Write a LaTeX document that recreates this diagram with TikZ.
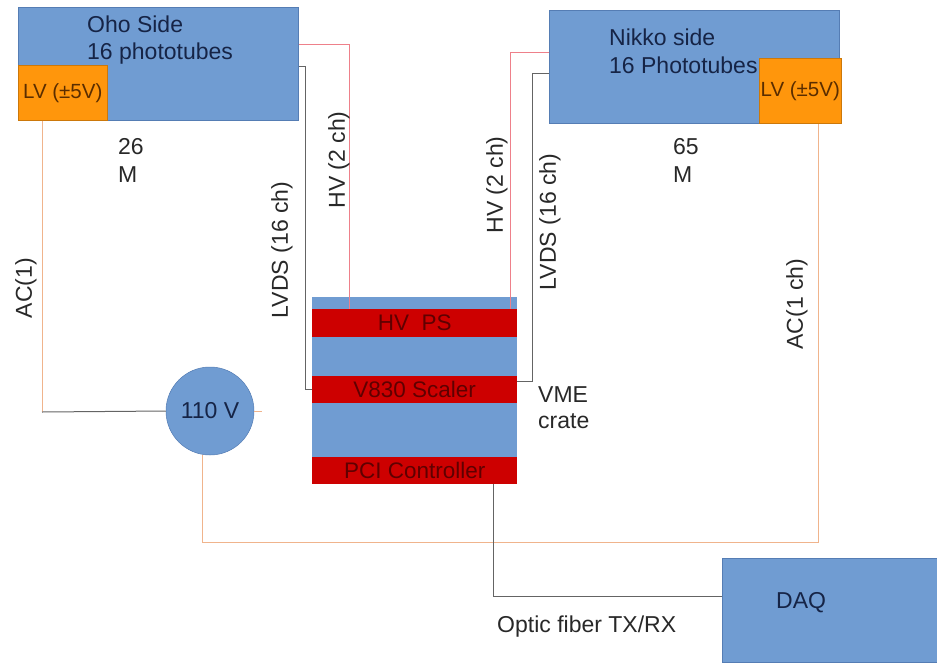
\documentclass[tikz,border=0pt]{standalone}
\usepackage{fontspec}
\setmainfont{Liberation Sans}
\definecolor{boxblue}{RGB}{112,156,210}
\definecolor{boxedge}{RGB}{85,125,180}
\definecolor{lvorange}{RGB}{255,150,12}
\definecolor{bandred}{RGB}{205,0,0}
\definecolor{bandtext}{RGB}{95,0,0}
\definecolor{navytext}{RGB}{22,36,70}
\definecolor{lvtext}{RGB}{90,45,0}
\definecolor{hvcol}{RGB}{238,128,138}
\definecolor{account}{RGB}{240,180,140}
\definecolor{graycol}{RGB}{100,100,100}
\definecolor{labelcol}{RGB}{40,40,40}
\begin{document}
\begin{tikzpicture}[x=1pt,y=-1pt,
  bluebox/.style={rectangle, fill=boxblue, draw=boxedge, line width=0.6pt, inner sep=0pt, anchor=north west},
  lvbox/.style={rectangle, fill=lvorange, draw=lvorange!80!black, line width=0.5pt, inner sep=0pt, anchor=north west, font=\fontsize{20.5}{24}\selectfont, text=lvtext},
  band/.style={rectangle, fill=bandred, inner sep=0pt, anchor=north west, minimum width=205pt, font=\fontsize{22.5}{26}\selectfont, text=bandtext},
  boxtext/.style={inner sep=0pt, anchor=base west, font=\fontsize{23}{27}\selectfont, text=navytext},
  plaintext/.style={inner sep=0pt, anchor=base west, font=\fontsize{23}{27}\selectfont, text=labelcol},
  vlabel/.style={inner sep=0pt, rotate=90, font=\fontsize{23}{27}\selectfont, text=labelcol},
  hvline/.style={draw=hvcol, line width=1pt},
  graywire/.style={draw=graycol, line width=1pt},
  acwire/.style={draw=account, line width=1pt}
]
\useasboundingbox (0,0) rectangle (937,662);

% boxes
\node[bluebox, minimum width=280pt, minimum height=113pt] (oho) at (18,7) {};
\node[lvbox, minimum width=89pt, minimum height=55pt] (oholv) at (18,65) {LV (±5V)};
\node[boxtext] (ohot1) at (87,32) {Oho Side};
\node[boxtext] (ohot2) at (87,59) {16 phototubes};

\node[bluebox, minimum width=290pt, minimum height=113pt] (nikko) at (549,10) {};
\node[boxtext] (nikt1) at (609,45) {Nikko side};
\node[boxtext] (nikt2) at (609,73) {16 Phototubes};
\node[lvbox, minimum width=82pt, minimum height=65pt] (nikkolv) at (759,58) {LV (±5V)};

\node[plaintext] (m1a) at (118,154) {26};
\node[plaintext] (m1b) at (118,182) {M};
\node[plaintext] (m2a) at (673,154) {65};
\node[plaintext] (m2b) at (673,182) {M};

% crate
\node[bluebox, draw=none, minimum width=205pt, minimum height=187pt] (crate) at (312,297) {};
\node[band, minimum height=28pt] (hvps) at (312,309) {HV\ \ PS};
\node[band, minimum height=27pt] (v830) at (312,376) {V830 Scaler};
\node[band, minimum height=27pt] (pci) at (312,457) {PCI Controller};
\node[plaintext] (vme1) at (538,402) {VME};
\node[plaintext] (vme2) at (538,428) {crate};

% 110 V
\node[circle, fill=boxblue, draw=boxedge, line width=0.5pt, minimum size=88pt, inner sep=0pt,
      font=\fontsize{23}{27}\selectfont, text=navytext] (ac) at (210,411) {110 V};

% DAQ
\node[bluebox, minimum width=215pt, minimum height=104pt] (daq) at (722,558) {};
\node[boxtext] (daqt) at (776,608) {DAQ};
\node[plaintext] (fibt) at (497,632) {Optic fiber TX/RX};

% connectors
\draw[hvline] ([yshift=-37pt]oho.north east) -| ([xshift=37pt]hvps.north west);
\draw[hvline] ([yshift=-42pt]nikko.north west) -| ([xshift=-7pt]hvps.north east);
\draw[graywire] ([yshift=-59pt]oho.north east) -- ++(7,0) |- (v830.west);
\draw[graywire] ([yshift=-63pt]nikko.north west) -- ++(-17,0) |- ([yshift=-5pt]v830.north east);

\coordinate (accorner) at (42,412);
\draw[acwire] ([xshift=24pt]oholv.south west) -- (accorner);
\draw[graywire] (accorner) -- (ac.west);
\coordinate (acstub) at (262,411);
\draw[acwire] (ac.east) -- (acstub);
\coordinate (acbottom) at (0,542);
\coordinate (nlvb) at ([xshift=59pt]nikkolv.south west);
\draw[acwire] (ac.-100) |- (nlvb |- acbottom) -- (nlvb);

\draw[graywire] ([xshift=181pt]pci.south west) |- ([yshift=-38pt]daq.north west);

% rotated labels
\node[vlabel] (l1) at (26,288) {AC(1)};
\node[vlabel] (l2) at (282,250) {LVDS (16 ch)};
\node[vlabel] (l3) at (339,160) {HV (2 ch)};
\node[vlabel] (l4) at (497,185) {HV (2 ch)};
\node[vlabel] (l5) at (550,222) {LVDS (16 ch)};
\node[vlabel] (l6) at (797,304) {AC(1 ch)};
\end{tikzpicture}
\end{document}
